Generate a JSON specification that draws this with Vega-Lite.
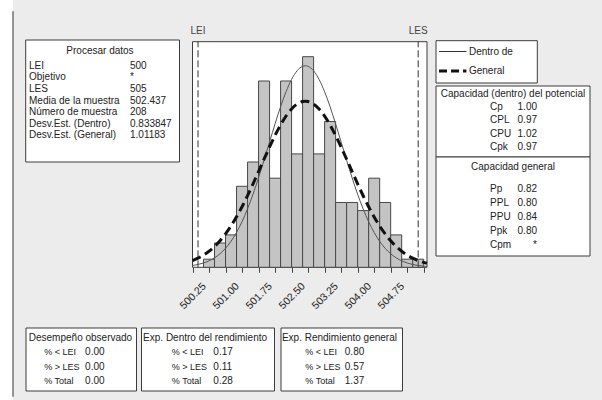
{
  "$schema": "https://vega.github.io/schema/vega-lite/v6.json",
  "width": 602,
  "height": 400,
  "autosize": {"type": "none"},
  "padding": 0,
  "background": "#ececec",
  "config": {
    "view": {"stroke": null},
    "font": "Liberation Sans",
    "text": {"font": "Liberation Sans", "fontSize": 10, "color": "#222222", "baseline": "middle"}
  },
  "datasets": {
    "bins": [
      {"lo": 500.125, "hi": 500.375, "n": 1},
      {"lo": 500.375, "hi": 500.625, "n": 3},
      {"lo": 500.625, "hi": 500.875, "n": 4},
      {"lo": 500.875, "hi": 501.125, "n": 10},
      {"lo": 501.125, "hi": 501.375, "n": 13},
      {"lo": 501.375, "hi": 501.625, "n": 23},
      {"lo": 501.625, "hi": 501.875, "n": 11},
      {"lo": 501.875, "hi": 502.125, "n": 23},
      {"lo": 502.125, "hi": 502.375, "n": 14},
      {"lo": 502.375, "hi": 502.625, "n": 26},
      {"lo": 502.625, "hi": 502.875, "n": 14},
      {"lo": 502.875, "hi": 503.125, "n": 18},
      {"lo": 503.125, "hi": 503.375, "n": 8},
      {"lo": 503.375, "hi": 503.625, "n": 8},
      {"lo": 503.625, "hi": 503.875, "n": 7},
      {"lo": 503.875, "hi": 504.125, "n": 11},
      {"lo": 504.125, "hi": 504.375, "n": 8},
      {"lo": 504.375, "hi": 504.625, "n": 4},
      {"lo": 504.625, "hi": 504.875, "n": 1},
      {"lo": 504.875, "hi": 505.125, "n": 1}
    ],
    "curve": [
      {"x": 499.875, "w": 0.222, "g": 0.831},
      {"x": 500.0, "w": 0.348, "g": 1.128},
      {"x": 500.125, "w": 0.533, "g": 1.507},
      {"x": 500.25, "w": 0.798, "g": 1.983},
      {"x": 500.375, "w": 1.169, "g": 2.570},
      {"x": 500.5, "w": 1.675, "g": 3.281},
      {"x": 500.625, "w": 2.347, "g": 4.125},
      {"x": 500.75, "w": 3.214, "g": 5.107},
      {"x": 500.875, "w": 4.304, "g": 6.228},
      {"x": 501.0, "w": 5.635, "g": 7.479},
      {"x": 501.125, "w": 7.215, "g": 8.846},
      {"x": 501.25, "w": 9.032, "g": 10.303},
      {"x": 501.375, "w": 11.056, "g": 11.820},
      {"x": 501.5, "w": 13.232, "g": 13.353},
      {"x": 501.625, "w": 15.486, "g": 14.858},
      {"x": 501.75, "w": 17.718, "g": 16.282},
      {"x": 501.875, "w": 19.824, "g": 17.573},
      {"x": 502.0, "w": 21.685, "g": 18.676},
      {"x": 502.125, "w": 23.197, "g": 19.551},
      {"x": 502.25, "w": 24.260, "g": 20.155},
      {"x": 502.375, "w": 24.810, "g": 20.464},
      {"x": 502.437, "w": 24.879, "g": 20.503},
      {"x": 502.5, "w": 24.808, "g": 20.463},
      {"x": 502.625, "w": 24.255, "g": 20.152},
      {"x": 502.75, "w": 23.186, "g": 19.544},
      {"x": 502.875, "w": 21.673, "g": 18.669},
      {"x": 503.0, "w": 19.807, "g": 17.562},
      {"x": 503.125, "w": 17.701, "g": 16.271},
      {"x": 503.25, "w": 15.466, "g": 14.846},
      {"x": 503.375, "w": 13.215, "g": 13.342},
      {"x": 503.5, "w": 11.039, "g": 11.807},
      {"x": 503.625, "w": 9.017, "g": 10.291},
      {"x": 503.75, "w": 7.201, "g": 8.834},
      {"x": 503.875, "w": 5.624, "g": 7.469},
      {"x": 504.0, "w": 4.294, "g": 6.218},
      {"x": 504.125, "w": 3.206, "g": 5.099},
      {"x": 504.25, "w": 2.340, "g": 4.118},
      {"x": 504.375, "w": 1.671, "g": 3.275},
      {"x": 504.5, "w": 1.166, "g": 2.565},
      {"x": 504.625, "w": 0.796, "g": 1.979},
      {"x": 504.75, "w": 0.531, "g": 1.503},
      {"x": 504.875, "w": 0.346, "g": 1.125},
      {"x": 505.0, "w": 0.221, "g": 0.829},
      {"x": 505.125, "w": 0.138, "g": 0.602},
      {"x": 505.2, "w": 0.103, "g": 0.493}
    ],
    "limits": [
      {"v": 500, "name": "LEI"},
      {"v": 505, "name": "LES"}
    ]
  },
  "resolve": {"scale": {"x": "independent", "y": "independent"}},
  "layer": [
    {
      "data": {"values": [{}]},
      "layer": [
        {
          "mark": {"type": "rect", "fill": "#ffffff"},
          "encoding": {
            "x": {"datum": 0, "type": "quantitative", "scale": {"domain": [0, 1], "range": [0, 13]}, "axis": null},
            "x2": {"datum": 1},
            "y": {"datum": 0, "type": "quantitative", "scale": {"domain": [0, 1], "range": [0, 400]}, "axis": null},
            "y2": {"datum": 1}
          }
        },
        {
          "mark": {"type": "rule", "color": "#333333", "strokeWidth": 1},
          "encoding": {
            "x": {"datum": 1, "type": "quantitative", "axis": null},
            "y": {"datum": 0.028, "type": "quantitative", "axis": null},
            "y2": {"datum": 0.992}
          }
        }
      ]
    },
    {
      "layer": [
        {
          "data": {"values": [{}]},
          "mark": {"type": "rect", "fill": "#ffffff", "stroke": "#3c3c3c", "strokeWidth": 1},
          "encoding": {
            "x": {"datum": 499.875, "type": "quantitative", "scale": {"domain": [499.875, 505.2], "range": [192.5, 427], "nice": false, "zero": false}},
            "x2": {"datum": 505.2},
            "y": {"datum": 0, "type": "quantitative", "scale": {"domain": [0, 27.85], "range": [267.3, 41.7], "nice": false, "zero": false}, "axis": null},
            "y2": {"datum": 27.85}
          }
        },
        {
          "data": {"name": "bins"},
          "mark": {"type": "rect", "fill": "#c4c4c4", "stroke": "#484848", "strokeWidth": 1},
          "encoding": {
            "x": {
              "field": "lo", "type": "quantitative", "title": null,
              "axis": {
                "orient": "bottom", "offset": -132.7, "title": null,
                "values": [499.875, 500.25, 500.625, 501, 501.375, 501.75, 502.125, 502.5, 502.875, 503.25, 503.625, 504, 504.375, 504.75, 505.125],
                "labelExpr": "indexof([500.25, 501, 501.75, 502.5, 503.25, 504, 504.75], datum.value) >= 0 ? format(datum.value, '.2f') : ''",
                "labelAngle": -45, "labelAlign": "right", "labelBaseline": "middle", "labelPadding": 12, "labelOffset": -5,
                "labelFont": "Liberation Sans", "labelFontSize": 10.5, "labelColor": "#222222",
                "labelFlush": false, "labelOverlap": false, "labelBound": false,
                "tickSize": 5, "tickColor": "#444444", "domain": false, "grid": false, "zindex": 1
              }
            },
            "x2": {"field": "hi"},
            "y": {"field": "n", "type": "quantitative", "title": null, "axis": null},
            "y2": {"datum": 0}
          }
        },
        {
          "data": {"name": "limits"},
          "mark": {"type": "rule", "color": "#333333", "strokeWidth": 1, "strokeDash": [7, 3]},
          "encoding": {
            "x": {"field": "v", "type": "quantitative", "title": null},
            "y": {"datum": 0, "type": "quantitative", "axis": null},
            "y2": {"datum": 27.85}
          }
        },
        {
          "data": {"name": "curve"},
          "mark": {"type": "line", "color": "#555555", "strokeWidth": 1, "interpolate": "monotone"},
          "encoding": {
            "x": {"field": "x", "type": "quantitative", "title": null},
            "y": {"field": "w", "type": "quantitative", "title": null, "axis": null}
          }
        },
        {
          "data": {"name": "curve"},
          "mark": {"type": "line", "color": "#111111", "strokeWidth": 3, "strokeDash": [9, 5], "interpolate": "monotone"},
          "encoding": {
            "x": {"field": "x", "type": "quantitative", "title": null},
            "y": {"field": "g", "type": "quantitative", "title": null, "axis": null}
          }
        },
        {
          "data": {"name": "limits"},
          "mark": {"type": "text", "align": "center", "baseline": "middle", "fontSize": 10, "color": "#444444"},
          "encoding": {
            "x": {"field": "v", "type": "quantitative", "title": null},
            "y": {"datum": 29.2, "type": "quantitative", "axis": null},
            "text": {"field": "name"}
          }
        }
      ]
    },
    {
      "resolve": {"scale": {"y": "independent"}},
      "layer": [
        {
          "data": {"values": [{"title": "Procesar datos"}]},
          "layer": [
            {
              "mark": {"type": "rect", "fill": "#ffffff", "stroke": "#3c3c3c", "strokeWidth": 1},
              "encoding": {
                "x": {"datum": 0, "type": "quantitative", "scale": {"domain": [0, 1], "range": [25.7, 179.5]}, "axis": null},
                "x2": {"datum": 1},
                "y": {"datum": 0, "type": "quantitative", "scale": {"domain": [0, 1], "range": [40, 162]}, "axis": null},
                "y2": {"datum": 1}
              }
            },
            {
              "mark": {"type": "text", "align": "center"},
              "encoding": {
                "x": {"datum": 0.483, "type": "quantitative"},
                "y": {"datum": 0.09, "type": "quantitative"},
                "text": {"field": "title"}
              }
            }
          ]
        },
        {
          "data": {"values": [
            {"item": "LEI", "value": "500"},
            {"item": "Objetivo", "value": "*"},
            {"item": "LES", "value": "505"},
            {"item": "Media de la muestra", "value": "502.437"},
            {"item": "Número de muestra", "value": "208"},
            {"item": "Desv.Est. (Dentro)", "value": "0.833847"},
            {"item": "Desv.Est. (General)", "value": "1.01183"}
          ]},
          "layer": [
            {
              "mark": {"type": "text", "align": "left"},
              "encoding": {
                "x": {"datum": 0.0215, "type": "quantitative"},
                "y": {"field": "item", "type": "nominal", "sort": null, "scale": {"type": "point", "range": [65.7, 135.3], "padding": 0}, "axis": null},
                "text": {"field": "item"}
              }
            },
            {
              "mark": {"type": "text", "align": "left"},
              "encoding": {
                "x": {"datum": 0.678, "type": "quantitative"},
                "y": {"field": "item", "type": "nominal", "sort": null, "axis": null},
                "text": {"field": "value"}
              }
            }
          ]
        }
      ]
    },
    {
      "resolve": {"scale": {"y": "independent"}},
      "layer": [
        {
          "data": {"values": [{}]},
          "mark": {"type": "rect", "fill": "#ffffff", "stroke": "#3c3c3c", "strokeWidth": 1},
          "encoding": {
            "x": {"datum": 0, "type": "quantitative", "scale": {"domain": [0, 1], "range": [436, 537.3]}, "axis": null},
            "x2": {"datum": 1},
            "y": {"datum": 0, "type": "quantitative", "scale": {"domain": [0, 1], "range": [40.7, 83]}, "axis": null},
            "y2": {"datum": 1}
          }
        },
        {
          "data": {"values": [{"item": "Dentro de"}, {"item": "General"}]},
          "layer": [
            {
              "transform": [{"filter": "datum.item == 'Dentro de'"}],
              "mark": {"type": "rule", "color": "#333333", "strokeWidth": 1},
              "encoding": {
                "x": {"datum": 0.03, "type": "quantitative"},
                "x2": {"datum": 0.3},
                "y": {"field": "item", "type": "nominal", "sort": null, "scale": {"type": "point", "domain": ["Dentro de", "General"], "range": [51.5, 71], "padding": 0}, "axis": null}
              }
            },
            {
              "transform": [{"filter": "datum.item == 'General'"}],
              "mark": {"type": "rule", "color": "#111111", "strokeWidth": 3, "strokeDash": [8, 4]},
              "encoding": {
                "x": {"datum": 0.03, "type": "quantitative"},
                "x2": {"datum": 0.3},
                "y": {"field": "item", "type": "nominal", "sort": null, "axis": null}
              }
            },
            {
              "mark": {"type": "text", "align": "left"},
              "encoding": {
                "x": {"datum": 0.325, "type": "quantitative"},
                "y": {"field": "item", "type": "nominal", "sort": null, "axis": null},
                "text": {"field": "item"}
              }
            }
          ]
        }
      ]
    },
    {
      "resolve": {"scale": {"y": "independent"}},
      "layer": [
        {
          "data": {"values": [{"title": "Capacidad (dentro) del potencial"}]},
          "layer": [
            {
              "mark": {"type": "rect", "fill": "#ffffff", "stroke": "#3c3c3c", "strokeWidth": 1},
              "encoding": {
                "x": {"datum": 0, "type": "quantitative", "scale": {"domain": [0, 1], "range": [436, 590]}, "axis": null},
                "x2": {"datum": 1},
                "y": {"datum": 0, "type": "quantitative", "scale": {"domain": [0, 1], "range": [86, 157]}, "axis": null},
                "y2": {"datum": 1}
              }
            },
            {
              "mark": {"type": "text", "align": "center"},
              "encoding": {
                "x": {"datum": 0.5, "type": "quantitative"},
                "y": {"datum": 0.106, "type": "quantitative"},
                "text": {"field": "title"}
              }
            }
          ]
        },
        {
          "data": {"values": [
            {"item": "Cp", "value": "1.00"},
            {"item": "CPL", "value": "0.97"},
            {"item": "CPU", "value": "1.02"},
            {"item": "Cpk", "value": "0.97"}
          ]},
          "layer": [
            {
              "mark": {"type": "text", "align": "left"},
              "encoding": {
                "x": {"datum": 0.351, "type": "quantitative"},
                "y": {"field": "item", "type": "nominal", "sort": null, "scale": {"type": "point", "range": [106.5, 147], "padding": 0}, "axis": null},
                "text": {"field": "item"}
              }
            },
            {
              "mark": {"type": "text", "align": "right"},
              "encoding": {
                "x": {"datum": 0.656, "type": "quantitative"},
                "y": {"field": "item", "type": "nominal", "sort": null, "axis": null},
                "text": {"field": "value"}
              }
            }
          ]
        }
      ]
    },
    {
      "resolve": {"scale": {"y": "independent"}},
      "layer": [
        {
          "data": {"values": [{"title": "Capacidad general"}]},
          "layer": [
            {
              "mark": {"type": "rect", "fill": "#ffffff", "stroke": "#3c3c3c", "strokeWidth": 1},
              "encoding": {
                "x": {"datum": 0, "type": "quantitative", "scale": {"domain": [0, 1], "range": [436, 590]}, "axis": null},
                "x2": {"datum": 1},
                "y": {"datum": 0, "type": "quantitative", "scale": {"domain": [0, 1], "range": [157, 256]}, "axis": null},
                "y2": {"datum": 1}
              }
            },
            {
              "mark": {"type": "text", "align": "center"},
              "encoding": {
                "x": {"datum": 0.5, "type": "quantitative"},
                "y": {"datum": 0.101, "type": "quantitative"},
                "text": {"field": "title"}
              }
            }
          ]
        },
        {
          "data": {"values": [
            {"item": "Pp", "value": "0.82"},
            {"item": "PPL", "value": "0.80"},
            {"item": "PPU", "value": "0.84"},
            {"item": "Ppk", "value": "0.80"},
            {"item": "Cpm", "value": "*"}
          ]},
          "layer": [
            {
              "mark": {"type": "text", "align": "left"},
              "encoding": {
                "x": {"datum": 0.351, "type": "quantitative"},
                "y": {"field": "item", "type": "nominal", "sort": null, "scale": {"type": "point", "range": [188.5, 244.5], "padding": 0}, "axis": null},
                "text": {"field": "item"}
              }
            },
            {
              "mark": {"type": "text", "align": "right"},
              "encoding": {
                "x": {"datum": 0.656, "type": "quantitative"},
                "y": {"field": "item", "type": "nominal", "sort": null, "axis": null},
                "text": {"field": "value"}
              }
            }
          ]
        }
      ]
    },
    {
      "resolve": {"scale": {"y": "independent"}},
      "layer": [
        {
          "data": {"values": [{"title": "Desempeño observado"}]},
          "layer": [
            {
              "mark": {"type": "rect", "fill": "#ffffff", "stroke": "#3c3c3c", "strokeWidth": 1},
              "encoding": {
                "x": {"datum": 0, "type": "quantitative", "scale": {"domain": [0, 1], "range": [26, 136.5]}, "axis": null},
                "x2": {"datum": 1},
                "y": {"datum": 0, "type": "quantitative", "scale": {"domain": [0, 1], "range": [328, 391]}, "axis": null},
                "y2": {"datum": 1}
              }
            },
            {
              "mark": {"type": "text", "align": "center"},
              "encoding": {
                "x": {"datum": 0.493, "type": "quantitative"},
                "y": {"datum": 0.154, "type": "quantitative"},
                "text": {"field": "title"}
              }
            }
          ]
        },
        {
          "data": {"values": [
            {"item": "% < LEI", "value": "0.00"},
            {"item": "% > LES", "value": "0.00"},
            {"item": "% Total", "value": "0.00"}
          ]},
          "layer": [
            {
              "mark": {"type": "text", "align": "left", "fontSize": 9},
              "encoding": {
                "x": {"datum": 0.165, "type": "quantitative"},
                "y": {"field": "item", "type": "nominal", "sort": null, "scale": {"type": "point", "range": [352.3, 381], "padding": 0}, "axis": null},
                "text": {"field": "item"}
              }
            },
            {
              "mark": {"type": "text", "align": "left"},
              "encoding": {
                "x": {"datum": 0.535, "type": "quantitative"},
                "y": {"field": "item", "type": "nominal", "sort": null, "axis": null},
                "text": {"field": "value"}
              }
            }
          ]
        }
      ]
    },
    {
      "resolve": {"scale": {"y": "independent"}},
      "layer": [
        {
          "data": {"values": [{"title": "Exp. Dentro del rendimiento"}]},
          "layer": [
            {
              "mark": {"type": "rect", "fill": "#ffffff", "stroke": "#3c3c3c", "strokeWidth": 1},
              "encoding": {
                "x": {"datum": 0, "type": "quantitative", "scale": {"domain": [0, 1], "range": [141.5, 274.5]}, "axis": null},
                "x2": {"datum": 1},
                "y": {"datum": 0, "type": "quantitative", "scale": {"domain": [0, 1], "range": [328, 391]}, "axis": null},
                "y2": {"datum": 1}
              }
            },
            {
              "mark": {"type": "text", "align": "center"},
              "encoding": {
                "x": {"datum": 0.478, "type": "quantitative"},
                "y": {"datum": 0.154, "type": "quantitative"},
                "text": {"field": "title"}
              }
            }
          ]
        },
        {
          "data": {"values": [
            {"item": "% < LEI", "value": "0.17"},
            {"item": "% > LES", "value": "0.11"},
            {"item": "% Total", "value": "0.28"}
          ]},
          "layer": [
            {
              "mark": {"type": "text", "align": "left", "fontSize": 9},
              "encoding": {
                "x": {"datum": 0.228, "type": "quantitative"},
                "y": {"field": "item", "type": "nominal", "sort": null, "scale": {"type": "point", "range": [352.3, 381], "padding": 0}, "axis": null},
                "text": {"field": "item"}
              }
            },
            {
              "mark": {"type": "text", "align": "left"},
              "encoding": {
                "x": {"datum": 0.54, "type": "quantitative"},
                "y": {"field": "item", "type": "nominal", "sort": null, "axis": null},
                "text": {"field": "value"}
              }
            }
          ]
        }
      ]
    },
    {
      "resolve": {"scale": {"y": "independent"}},
      "layer": [
        {
          "data": {"values": [{"title": "Exp. Rendimiento general"}]},
          "layer": [
            {
              "mark": {"type": "rect", "fill": "#ffffff", "stroke": "#3c3c3c", "strokeWidth": 1},
              "encoding": {
                "x": {"datum": 0, "type": "quantitative", "scale": {"domain": [0, 1], "range": [281, 402.5]}, "axis": null},
                "x2": {"datum": 1},
                "y": {"datum": 0, "type": "quantitative", "scale": {"domain": [0, 1], "range": [328, 391]}, "axis": null},
                "y2": {"datum": 1}
              }
            },
            {
              "mark": {"type": "text", "align": "center"},
              "encoding": {
                "x": {"datum": 0.481, "type": "quantitative"},
                "y": {"datum": 0.154, "type": "quantitative"},
                "text": {"field": "title"}
              }
            }
          ]
        },
        {
          "data": {"values": [
            {"item": "% < LEI", "value": "0.80"},
            {"item": "% > LES", "value": "0.57"},
            {"item": "% Total", "value": "1.37"}
          ]},
          "layer": [
            {
              "mark": {"type": "text", "align": "left", "fontSize": 9},
              "encoding": {
                "x": {"datum": 0.2, "type": "quantitative"},
                "y": {"field": "item", "type": "nominal", "sort": null, "scale": {"type": "point", "range": [352.3, 381], "padding": 0}, "axis": null},
                "text": {"field": "item"}
              }
            },
            {
              "mark": {"type": "text", "align": "left"},
              "encoding": {
                "x": {"datum": 0.525, "type": "quantitative"},
                "y": {"field": "item", "type": "nominal", "sort": null, "axis": null},
                "text": {"field": "value"}
              }
            }
          ]
        }
      ]
    }
  ]
}
